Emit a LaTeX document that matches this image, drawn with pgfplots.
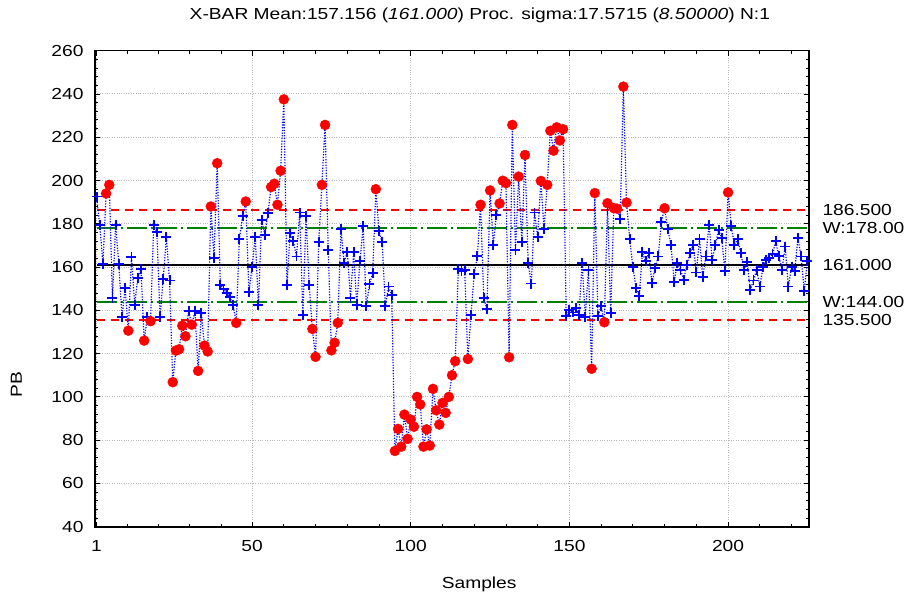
\documentclass[border=0pt]{standalone}
\usepackage{fontspec}
\setmainfont{Liberation Sans}[FakeStretch=1.2]
\usepackage{pgfplots}
\usepackage{pgfplotstable}
\pgfplotsset{compat=1.18}

\definecolor{cblue}{RGB}{0,0,255}
\definecolor{cred}{RGB}{255,0,0}
\definecolor{cgreen}{RGB}{0,128,0}
\newcommand{\lab}{\fontsize{16bp}{19bp}\selectfont}

% sample, mean, flag (b = in control, r = flagged)
\pgfplotstableread{
s v c
1 192.6 b
2 179.5 b
3 161.5 b
4 194.0 r
5 198.0 r
6 145.7 b
7 179.5 b
8 161.5 b
9 136.8 b
10 150.3 b
11 130.6 r
12 164.6 b
13 142.6 b
14 155.0 b
15 159.0 b
16 126.0 r
17 137.0 b
18 135.0 r
19 179.5 b
20 176.0 b
21 137.0 b
22 154.5 b
23 173.8 b
24 153.8 b
25 106.8 r
26 121.4 r
27 122.0 r
28 132.9 r
29 128.0 r
30 139.5 b
31 133.4 r
32 139.5 b
33 112.0 r
34 138.8 b
35 123.7 r
36 121.0 r
37 188.0 r
38 164.0 b
39 208.0 r
40 151.8 b
41 149.8 b
42 148.0 b
43 146.0 b
44 142.6 b
45 134.2 r
46 173.0 b
47 183.4 b
48 190.3 r
49 148.3 b
50 160.0 b
51 174.0 b
52 142.3 b
53 181.8 b
54 175.0 b
55 185.0 b
56 197.0 r
57 198.5 r
58 188.8 r
59 204.5 r
60 237.5 r
61 151.8 b
62 175.7 b
63 172.0 b
64 164.9 b
65 185.2 b
66 138.0 b
67 183.4 b
68 151.8 b
69 131.4 r
70 118.5 r
71 171.4 b
72 198.0 r
73 225.7 r
74 167.7 b
75 121.5 r
76 125.0 r
77 134.2 r
78 177.5 b
79 162.0 b
80 167.0 b
81 145.7 b
82 166.8 b
83 142.6 b
84 163.0 b
85 178.8 b
86 141.8 b
87 152.0 b
88 157.2 b
89 196.0 r
90 176.5 b
91 171.4 b
92 141.8 b
93 151.0 b
94 147.2 b
95 75.0 r
96 85.2 r
97 77.0 r
98 91.8 r
99 80.6 r
100 89.5 r
101 86.2 r
102 100.0 r
103 96.5 r
104 77.0 r
105 85.0 r
106 77.5 r
107 103.7 r
108 93.8 r
109 87.2 r
110 97.2 r
111 92.6 r
112 100.0 r
113 110.0 r
114 116.5 r
115 159.0 b
116 158.0 b
117 158.8 b
118 117.5 r
119 138.0 b
120 157.0 b
121 165.0 b
122 188.8 r
123 145.7 b
124 140.6 b
125 195.4 r
126 170.3 b
127 184.0 b
128 189.4 r
129 199.9 r
130 198.8 r
131 118.3 r
132 225.7 r
133 167.7 b
134 201.8 r
135 171.5 b
136 211.8 r
137 161.8 b
138 152.4 b
139 185.2 b
140 173.8 b
141 199.8 r
142 177.5 b
143 198.0 r
144 223.0 r
145 213.8 r
146 224.6 r
147 218.5 r
148 223.7 r
149 137.2 b
150 140.3 b
151 139.0 b
152 141.0 b
153 138.0 b
154 161.8 b
155 137.0 b
156 158.8 b
157 113.0 r
158 194.2 r
159 137.2 b
160 141.8 b
161 134.5 r
162 189.5 r
163 138.8 b
164 187.2 r
165 187.0 r
166 182.3 b
167 243.4 r
168 189.8 r
169 172.9 b
170 160.0 b
171 150.3 b
172 146.5 b
173 166.8 b
174 162.6 b
175 166.5 b
176 152.5 b
177 159.5 b
178 164.9 b
179 181.0 b
180 187.2 r
181 177.5 b
182 170.3 b
183 153.0 b
184 162.0 b
185 158.8 b
186 154.0 b
187 161.0 b
188 166.5 b
189 170.3 b
190 157.5 b
191 173.0 b
192 155.4 b
193 164.9 b
194 179.5 b
195 163.4 b
196 170.3 b
197 177.2 b
198 173.4 b
199 158.0 b
200 194.5 r
201 178.8 b
202 170.0 b
203 173.0 b
204 166.5 b
205 158.8 b
206 162.2 b
207 149.5 b
208 153.8 b
209 158.8 b
210 151.0 b
211 160.0 b
212 163.4 b
213 164.2 b
214 166.0 b
215 171.9 b
216 165.0 b
217 158.8 b
218 169.5 b
219 151.0 b
220 160.0 b
221 158.0 b
222 173.4 b
223 164.9 b
224 148.8 b
225 163.0 b
}\xbardata

\begin{document}
\begin{tikzpicture}
\begin{axis}[
  scale only axis,
  width=714bp, height=476bp,
  xmin=0.5, xmax=225.5,
  ymin=40, ymax=260,
  clip=false,
  xtick={1,50,100,150,200},
  xticklabels={1,50,100,150,200},
  minor xtick={10.8,20.6,30.4,40.2,60,70,80,90,110,120,130,140,160,170,180,190,210,220},
  ytick={40,60,...,260},
  minor y tick num=4,
  major tick length=5bp, minor tick length=3bp,
  tick style={black, line width=0.9bp},
  axis line style={black, line width=1.6bp},
  grid=major,
  major grid style={gray!55, dotted, line width=1bp},
  /pgf/number format/assume math mode=true,
  tick label style={font=\lab},
  yticklabel style={xshift=-8bp},
  xticklabel style={yshift=-10bp},
]
\coordinate (sw) at (rel axis cs:0,0);
\coordinate (ne) at (rel axis cs:1,1);

% control limits
\addplot[cred, line width=1.7bp, dash pattern=on 8bp off 6bp] coordinates {(1,186.5) (225.5,186.5)};
\addplot[cred, line width=1.7bp, dash pattern=on 8bp off 6bp] coordinates {(1,135.5) (225.5,135.5)};
\addplot[cgreen, line width=1.7bp, dash pattern=on 20bp off 4bp on 2bp off 4bp] coordinates {(1,178) (225.5,178)};
\addplot[cgreen, line width=1.7bp, dash pattern=on 20bp off 4bp on 2bp off 4bp] coordinates {(1,144) (225.5,144)};
\addplot[black, line width=1.5bp] coordinates {(1,161) (225.5,161)};

% sample means
\addplot[cblue, line width=1.2bp, dash pattern=on 1.2bp off 1.5bp, no marks] table[x=s, y=v] {\xbardata};
\addplot[scatter, only marks, point meta=explicit symbolic,
  scatter/classes={
    b={mark=+, draw=cblue, mark size=5bp, line width=1.9bp},
    r={mark=*, draw=cred, fill=cred, mark size=5bp}}]
  table[x=s, y=v, meta=c] {\xbardata};

\node[anchor=west, font=\lab, xshift=10bp] at (axis cs:225.5,186.5) {186.500};
\node[anchor=west, font=\lab, xshift=10bp] at (axis cs:225.5,178) {W:178.00};
\node[anchor=west, font=\lab, xshift=10bp] at (axis cs:225.5,161) {161.000};
\node[anchor=west, font=\lab, xshift=10bp] at (axis cs:225.5,144) {W:144.00};
\node[anchor=west, font=\lab, xshift=10bp] at (axis cs:225.5,135.5) {135.500};

\node[font=\lab, yshift=35bp] at (rel axis cs:0.539,1)
  {X-BAR Mean:157.156 (\textit{161.000}) Proc. sigma:17.5715 (\textit{8.50000}) N:1};
\node[font=\lab, yshift=-58bp] at (rel axis cs:0.538,0) {Samples};
\path (rel axis cs:0,0.48) ++(-77bp,0) node[font=\lab, rotate=90] {PB};
\end{axis}
\pgfresetboundingbox
\path[use as bounding box] ([xshift=-95bp,yshift=-71bp]sw) rectangle ([xshift=103bp,yshift=50.7bp]ne);
\end{tikzpicture}
\end{document}
